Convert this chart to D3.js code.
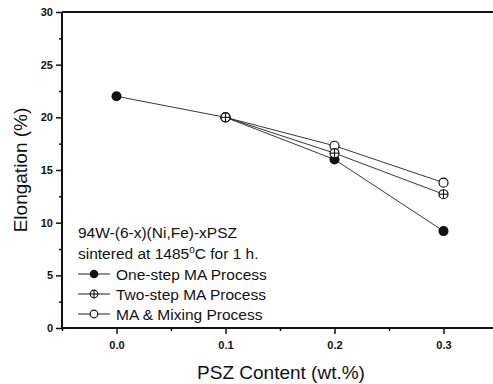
<!DOCTYPE html>
<html>
<head>
<meta charset="utf-8">
<script src="https://cdn.jsdelivr.net/npm/d3@7"></script>
<style>
  body { margin: 0; background: #fff; }
  text { font-family: "Liberation Sans", Arial, sans-serif; fill: #111; }
</style>
</head>
<body>
<svg width="493" height="384"></svg>
<script>
// data
var oneStepX = [0.0, 0.1, 0.2, 0.3];
var oneStepY = [22.0, 20.0, 16.0, 9.2];
var twoStepX = [0.1, 0.2, 0.3];
var twoStepY = [20.0, 16.6, 12.7];
var mixingX = [0.1, 0.2, 0.3];
var mixingY = [20.0, 17.3, 13.8];
var xTicks = [0.0, 0.1, 0.2, 0.3];
var yTicks = [0, 5, 10, 15, 20, 25, 30];
var legendLabels = ["One-step MA Process", "Two-step MA Process", "MA & Mixing Process"];

var svg = d3.select("svg");
// note: "top" clashes with window.top, so plotTop
var plotLeft = 62, plotTop = 12, plotBottom = 328;

var x = d3.scaleLinear().domain([-0.05, 0.35]).range([plotLeft, plotLeft + 436]);
var y = d3.scaleLinear().domain([0, 30]).range([plotBottom, plotTop]);

// frame top line
svg.append("line").attr("x1", plotLeft).attr("x2", 493).attr("y1", plotTop).attr("y2", plotTop)
  .attr("stroke", "#111").attr("stroke-width", 2);

var yAxis = svg.append("g").attr("transform", "translate(" + plotLeft + ",0)")
  .call(d3.axisLeft(y).tickValues(yTicks).tickSize(6).tickPadding(3));
var yMinor = svg.append("g").attr("transform", "translate(" + plotLeft + ",0)")
  .call(d3.axisLeft(y).tickValues(d3.range(2.5, 30, 5)).tickSize(3).tickFormat(""));
var xAxis = svg.append("g").attr("transform", "translate(0," + plotBottom + ")")
  .call(d3.axisBottom(x).tickValues(xTicks).tickSize(6).tickPadding(7).tickFormat(d3.format(".1f")));
var xMinor = svg.append("g").attr("transform", "translate(0," + plotBottom + ")")
  .call(d3.axisBottom(x).tickValues([-0.05, 0.05, 0.15, 0.25]).tickSize(3).tickFormat(""));

[yAxis, yMinor, xAxis, xMinor].forEach(function(g) {
  g.select(".domain").attr("stroke", "#111").attr("stroke-width", 2);
  g.selectAll(".tick line").attr("stroke", "#111").attr("stroke-width", 1.5);
  g.selectAll(".tick text").attr("font-size", 11).attr("font-weight", "bold")
    .attr("font-family", "Liberation Sans, Arial, sans-serif").attr("fill", "#111");
});
xAxis.select(".domain").attr("d", "M" + plotLeft + ",0H493");
xMinor.select(".domain").remove();
yMinor.select(".domain").remove();
yAxis.select(".domain").attr("d", "M0," + plotTop + "V" + plotBottom);

// axis titles
svg.append("text").attr("x", 281).attr("y", 379).attr("text-anchor", "middle")
  .attr("font-size", 19).text("PSZ Content (wt.%)");
svg.append("text").attr("transform", "translate(27,170) rotate(-90)").attr("text-anchor", "middle")
  .attr("font-size", 19).text("Elongation (%)");

// series
var series = [
  { xs: oneStepX, ys: oneStepY, kind: "filled" },
  { xs: twoStepX, ys: twoStepY, kind: "plus" },
  { xs: mixingX, ys: mixingY, kind: "open" }
];

var line = d3.line().x(function(d) { return x(d[0]); }).y(function(d) { return y(d[1]); });

function drawMarker(g, cx, cy, kind, r) {
  if (kind === "filled") {
    g.append("circle").attr("cx", cx).attr("cy", cy).attr("r", r + 0.5).attr("fill", "#111");
  } else {
    g.append("circle").attr("cx", cx).attr("cy", cy).attr("r", r)
      .attr("fill", "#fff").attr("stroke", "#111").attr("stroke-width", 1.2);
    if (kind === "plus") {
      g.append("line").attr("x1", cx - r).attr("x2", cx + r).attr("y1", cy).attr("y2", cy)
        .attr("stroke", "#111").attr("stroke-width", 1.1);
      g.append("line").attr("x1", cx).attr("x2", cx).attr("y1", cy - r).attr("y2", cy + r)
        .attr("stroke", "#111").attr("stroke-width", 1.1);
    }
  }
}

series.forEach(function(s) {
  var pts = s.xs.map(function(v, i) { return [v, s.ys[i]]; });
  svg.append("path").datum(pts).attr("d", line).attr("fill", "none")
    .attr("stroke", "#222").attr("stroke-width", 0.9);
});
// markers on top; plus circles last so the 0.1 point shows the cross
[series[0], series[2], series[1]].forEach(function(s) {
  var g = svg.append("g");
  s.xs.forEach(function(v, i) { drawMarker(g, x(v), y(s.ys[i]), s.kind, 4.5); });
});

// legend / annotation
var lx = 78;
svg.append("text").attr("x", lx).attr("y", 238).attr("font-size", 15.5).text("94W-(6-x)(Ni,Fe)-xPSZ");
var t2 = svg.append("text").attr("x", lx).attr("y", 259).attr("font-size", 15.5);
t2.append("tspan").text("sintered at 1485");
t2.append("tspan").attr("dy", -6).attr("font-size", 10).text("o");
t2.append("tspan").attr("dy", 6).text("C for 1 h.");

legendLabels.forEach(function(lab, i) {
  var ly = 274 + i * 20;
  svg.append("line").attr("x1", lx).attr("x2", lx + 32).attr("y1", ly).attr("y2", ly)
    .attr("stroke", "#222").attr("stroke-width", 1);
  var g = svg.append("g");
  drawMarker(g, lx + 16, ly, series[i].kind, 3.8);
  svg.append("text").attr("x", lx + 38).attr("y", ly + 5.5).attr("font-size", 15.5).text(lab);
});
</script>
</body>
</html>
